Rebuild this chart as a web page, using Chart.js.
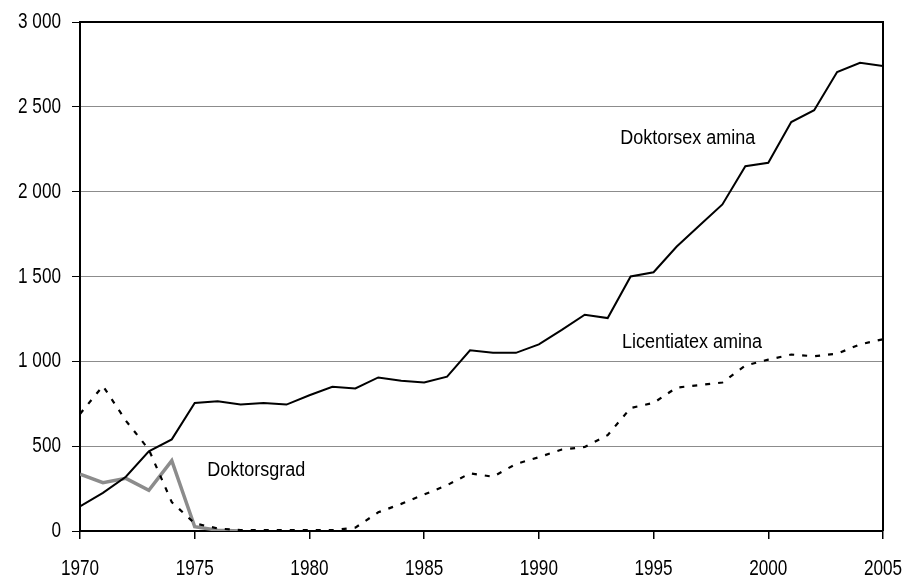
<!DOCTYPE html>
<html>
<head>
<meta charset="utf-8">
<script src="https://cdn.jsdelivr.net/npm/chart.js@4/dist/chart.umd.min.js"></script>
<style>
  html, body { margin: 0; padding: 0; background: #fff; }
  #wrap { width: 907px; height: 579px; position: relative; }
</style>
</head>
<body>
<div id="wrap"><canvas id="c" width="907" height="579"></canvas></div>
<script>
// ---- data ----
const years = [1970,1971,1972,1973,1974,1975,1976,1977,1978,1979,
               1980,1981,1982,1983,1984,1985,1986,1987,1988,1989,
               1990,1991,1992,1993,1994,1995,1996,1997,1998,1999,
               2000,2001,2002,2003,2004,2005];
const doktorsexamina = [145,225,320,470,540,755,765,745,755,745,
                        800,850,840,905,885,875,910,1065,1050,1050,
                        1100,1185,1275,1255,1500,1525,1675,1800,1925,2150,
                        2170,2410,2480,2705,2760,2740];
const licentiatexamina = [690,855,650,480,170,45,15,5,5,5,
                          5,5,20,110,160,215,270,340,320,395,
                          435,480,495,565,725,755,845,860,875,975,
                          1010,1040,1030,1045,1100,1130];
const doktorsgrad = [335,285,310,240,415,25,5,0];
const yTicks = [0,500,1000,1500,2000,2500,3000];
const xTicks = [1970,1975,1980,1985,1990,1995,2000,2005];
const seriesLabels = ["Doktorsex amina", "Licentiatex amina", "Doktorsgrad"];
// label anchors in data units (year, value)
const labelYears = [1993.55, 1993.62, 1975.55];
const labelValues = [2316, 1110, 355];

const FONT = "'Liberation Sans', Arial, sans-serif";
let textSqueeze = 0.78;

function pts(vals) { return vals.map((v, i) => ({ x: years[i], y: v })); }
function fmt(v) { return String(v).replace(/\B(?=(\d{3})+(?!\d))/g, ' '); }

const canvas = document.getElementById('c');
const rawCtx = canvas.getContext('2d');
const origFill = rawCtx.fillText.bind(rawCtx);
rawCtx.fillText = function (text, x, y, maxW) {
  this.save();
  this.translate(x, y);
  this.scale(textSqueeze, 1);
  if (maxW !== undefined) origFill(text, 0, 0, maxW / textSqueeze); else origFill(text, 0, 0);
  this.restore();
};

const framePlugin = {
  id: 'frame',
  beforeDraw() { textSqueeze = 0.78; },
  beforeDatasetsDraw(chart) {
    const { ctx, chartArea: a } = chart;
    ctx.save();
    ctx.strokeStyle = '#000';
    ctx.lineWidth = 2;
    ctx.beginPath();
    ctx.moveTo(a.left, a.top);
    ctx.lineTo(a.right, a.top);
    ctx.lineTo(a.right, a.bottom);
    ctx.stroke();
    ctx.restore();
  },
  afterDatasetsDraw(chart) {
    const { ctx } = chart;
    const xs = chart.scales.x, ys = chart.scales.y;
    ctx.save();
    textSqueeze = 0.9;
    ctx.fillStyle = '#000';
    ctx.font = '20px ' + FONT;
    ctx.textBaseline = 'middle';
    ctx.textAlign = 'left';
    seriesLabels.forEach((t, i) => {
      ctx.fillText(t, xs.getPixelForValue(labelYears[i]), ys.getPixelForValue(labelValues[i]));
    });
    textSqueeze = 0.78;
    ctx.restore();
  }
};

new Chart(canvas, {
  type: 'line',
  data: {
    datasets: [
      { label: seriesLabels[0], data: pts(doktorsexamina), borderColor: '#000', borderWidth: 2, pointRadius: 0, tension: 0 },
      { label: seriesLabels[1], data: pts(licentiatexamina), borderColor: '#000', borderWidth: 2.2, borderDash: [5, 8], pointRadius: 0, tension: 0 },
      { label: seriesLabels[2], data: pts(doktorsgrad), borderColor: '#8c8c8c', borderWidth: 3.5, pointRadius: 0, tension: 0 }
    ]
  },
  options: {
    responsive: false,
    animation: false,
    devicePixelRatio: 1,
    layout: { padding: { top: 22, right: 24, left: 0, bottom: 0 } },
    plugins: { legend: { display: false }, tooltip: { enabled: false }, title: { display: false } },
    scales: {
      x: {
        type: 'linear', min: 1970, max: 2005,
        afterBuildTicks: s => { s.ticks = xTicks.map(v => ({ value: v })); },
        afterFit: s => { s.height = 48; s.paddingLeft = 0; s.paddingRight = 0; },
        grid: { drawOnChartArea: false, drawTicks: true, tickLength: 8, tickColor: '#000', lineWidth: 1.5 },
        border: { display: true, color: '#000', width: 2 },
        ticks: { color: '#000', font: { family: FONT, size: 22 }, padding: 17, maxRotation: 0, autoSkip: false, callback: v => String(v) }
      },
      y: {
        min: 0, max: 3000,
        afterBuildTicks: s => { s.ticks = yTicks.map(v => ({ value: v })); },
        afterFit: s => { s.width = 80; s.paddingTop = 0; s.paddingBottom = 0; },
        grid: { color: '#8c8c8c', lineWidth: 1, drawTicks: true, tickLength: 8, tickColor: '#000' },
        border: { display: true, color: '#000', width: 2 },
        ticks: { color: '#000', font: { family: FONT, size: 22 }, padding: 11, callback: v => fmt(v) }
      }
    }
  },
  plugins: [framePlugin]
});
</script>
</body>
</html>
